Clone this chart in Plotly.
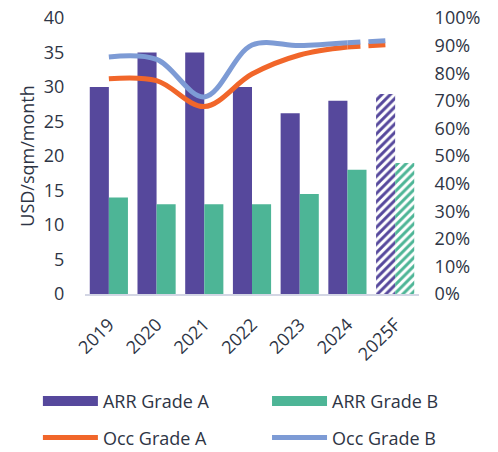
import plotly.graph_objects as go

years = ["2019", "2020", "2021", "2022", "2023", "2024", "2025F"]
arr_a = [30, 35, 35, 30, 26.2, 28, 29]
arr_b = [14, 13, 13, 13, 14.5, 18, 19]
occ_a = [0.78, 0.773, 0.679, 0.797, 0.866, 0.895, 0.905]
occ_b = [0.859, 0.85, 0.714, 0.902, 0.90, 0.91, 0.92]
left_ticks = [0, 5, 10, 15, 20, 25, 30, 35, 40]
right_ticks = [0, 0.1, 0.2, 0.3, 0.4, 0.5, 0.6, 0.7, 0.8, 0.9, 1.0]

PURPLE = "#56489C"
GREEN = "#4DB596"
ORANGE = "#F1662A"
BLUE = "#7D9BD5"
TXT = "#2E3545"
FONT = "Open Sans"

shapes_pat = ["" if not y.endswith("F") else "/" for y in years]

fig = go.Figure()
fig.add_trace(go.Bar(x=years, y=arr_a, name="ARR Grade A", showlegend=False,
                     marker=dict(color=PURPLE, line=dict(width=0),
                                 pattern=dict(shape=shapes_pat, size=6, solidity=0.5, fillmode="replace"))))
fig.add_trace(go.Bar(x=years, y=arr_b, name="ARR Grade B", showlegend=False,
                     marker=dict(color=GREEN, line=dict(width=0),
                                 pattern=dict(shape=shapes_pat, size=6, solidity=0.5, fillmode="replace"))))

# solid smoothed lines (actual years) + dashed forecast segment
fig.add_trace(go.Scatter(x=years[:-1], y=occ_a[:-1], yaxis="y2", mode="lines", showlegend=False,
                         line=dict(color=ORANGE, width=5, shape="spline", smoothing=1.0)))
fig.add_trace(go.Scatter(x=years[-2:], y=occ_a[-2:], yaxis="y2", mode="lines", showlegend=False,
                         line=dict(color=ORANGE, width=5, dash="13px,8px,17px,30px")))
fig.add_trace(go.Scatter(x=years[:-1], y=occ_b[:-1], yaxis="y2", mode="lines", showlegend=False,
                         line=dict(color=BLUE, width=5, shape="spline", smoothing=1.0)))
fig.add_trace(go.Scatter(x=years[-2:], y=occ_b[-2:], yaxis="y2", mode="lines", showlegend=False,
                         line=dict(color=BLUE, width=5, dash="13px,8px,17px,30px")))

# legend entries: column 1 in legend, column 2 in legend2
fig.add_trace(go.Scatter(x=[None], y=[None], mode="lines", name="ARR Grade A", legend="legend",
                         legendgroup="a1", line=dict(color=PURPLE, width=12)))
fig.add_trace(go.Scatter(x=[None], y=[None], mode="lines", name="Occ Grade A", legend="legend",
                         legendgroup="a2", line=dict(color=ORANGE, width=5)))
fig.add_trace(go.Scatter(x=[None], y=[None], mode="lines", name="ARR Grade B", legend="legend2",
                         legendgroup="b1", line=dict(color=GREEN, width=12)))
fig.add_trace(go.Scatter(x=[None], y=[None], mode="lines", name="Occ Grade B", legend="legend2",
                         legendgroup="b2", line=dict(color=BLUE, width=5)))

leg_common = dict(orientation="v", yanchor="top", xanchor="left", itemwidth=55,
                  font=dict(size=18, color=TXT), tracegroupgap=10,
                  bgcolor="rgba(0,0,0,0)", traceorder="grouped")

fig.update_layout(
    width=498, height=452,
    margin=dict(l=85, r=79, t=18, b=158, pad=0, autoexpand=False),
    paper_bgcolor="white", plot_bgcolor="white",
    font=dict(family=FONT, size=18, color=TXT),
    barmode="group", bargap=0.2, bargroupgap=0,
    xaxis=dict(type="category", tickangle=-45, showgrid=False, showline=True,
               linecolor="#D3D6E4", linewidth=2, ticks="outside", ticklen=11,
               tickcolor="rgba(0,0,0,0)", tickfont=dict(size=18, color=TXT),
               ticklabeloverflow="allow"),
    yaxis=dict(range=[0, 40], tickvals=left_ticks, showgrid=False, zeroline=False,
               showline=False, ticks="outside", ticklen=16, tickcolor="rgba(0,0,0,0)",
               ticklabeloverflow="allow",
               title=dict(text="USD/sqm/month", font=dict(size=18, color=TXT), standoff=4)),
    yaxis2=dict(range=[0, 1], tickvals=right_ticks, tickformat=".0%", overlaying="y",
                side="right", showgrid=False, zeroline=False, showline=False,
                ticks="outside", ticklen=11, tickcolor="rgba(0,0,0,0)",
                ticklabeloverflow="allow"),
    legend=dict(x=-0.141, y=-0.322, **leg_common),
    legend2=dict(x=0.545, y=-0.322, **leg_common),
)

fig.write_html("out.html", config={"displayModeBar": False},
               post_script="document.body.style.margin='0px';document.body.style.overflow='hidden';")
